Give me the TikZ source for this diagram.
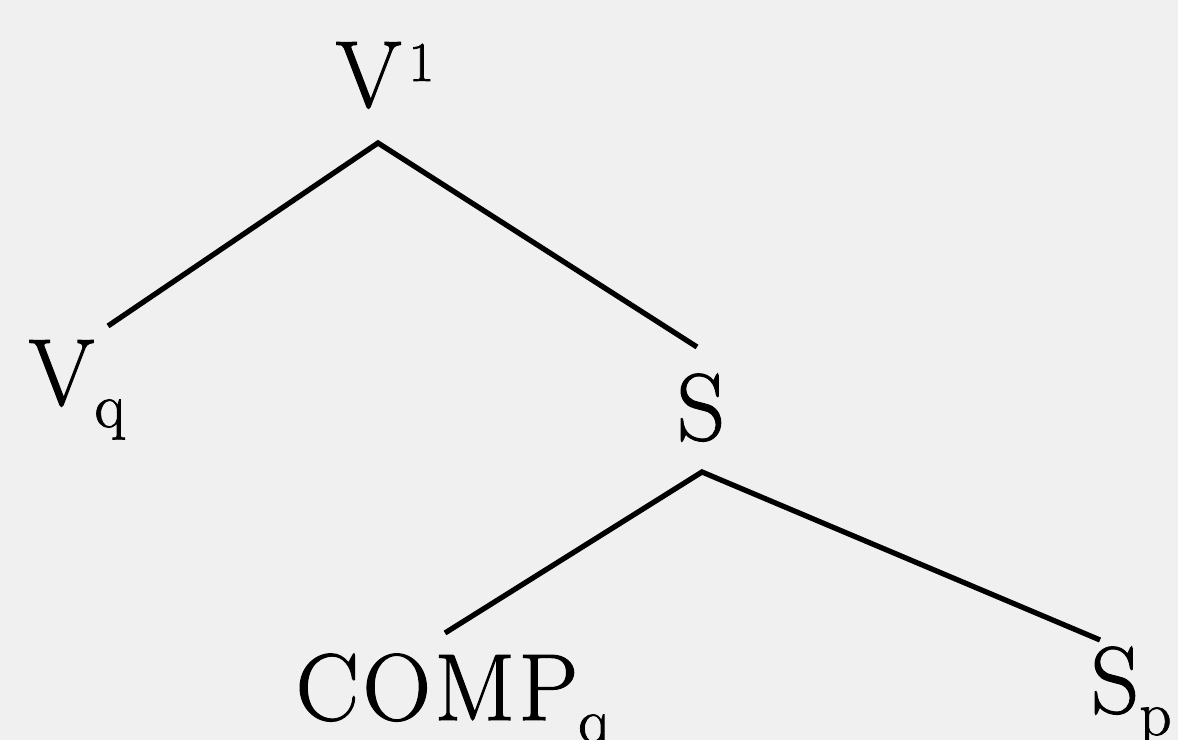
\documentclass[tikz,border=0pt]{standalone}
\usepackage{fontspec}
\usepackage{tikz}
\newfontfamily\catfont{Latin Modern Roman}[FakeBold=1.2]
\newcommand{\catsub}[1]{\raisebox{-6.3pt}{\fontsize{18}{18}\selectfont #1}}
\newcommand{\catsup}[1]{\raisebox{7.4pt}{\fontsize{16}{16}\selectfont #1}}
\tikzset{cat/.style={inner sep=0pt,anchor=base west,font=\catfont\fontsize{27}{30}\selectfont},
  branch/.style={line width=1.5pt}}
\begin{document}
\begin{tikzpicture}
   \fill[black!6] (0,0) rectangle (11.78,7.40);
   \useasboundingbox (0,0) rectangle (11.78,7.40);
   \clip (0,0) rectangle (11.78,7.40);
   \node[cat] (v1) at (3.35,6.33) {V\kern2pt\catsup{1}};
   \node[cat] (vq) at (0.28,3.35) {V\catsub{q}};
   \node[cat] (s) at (6.76,3.00) {S};
   \node[cat] (comp) at (2.95,0.20) {C\kern1pt O\kern1pt M\kern1pt P\catsub{q}};
   \node[cat] (sp) at (10.90,0.27) {S\catsub{p}};
   \draw[branch] ([shift={(0.80,0.79)}]vq.base west) -- ([shift={(0.43,-0.36)}]v1.base west)
      -- ([shift={(0.21,0.93)}]s.base west);
   \draw[branch] ([shift={(1.50,0.87)}]comp.base west) -- ([shift={(0.26,-0.32)}]s.base west)
      -- ([shift={(0.10,0.73)}]sp.base west);
  \end{tikzpicture}
\end{document}
